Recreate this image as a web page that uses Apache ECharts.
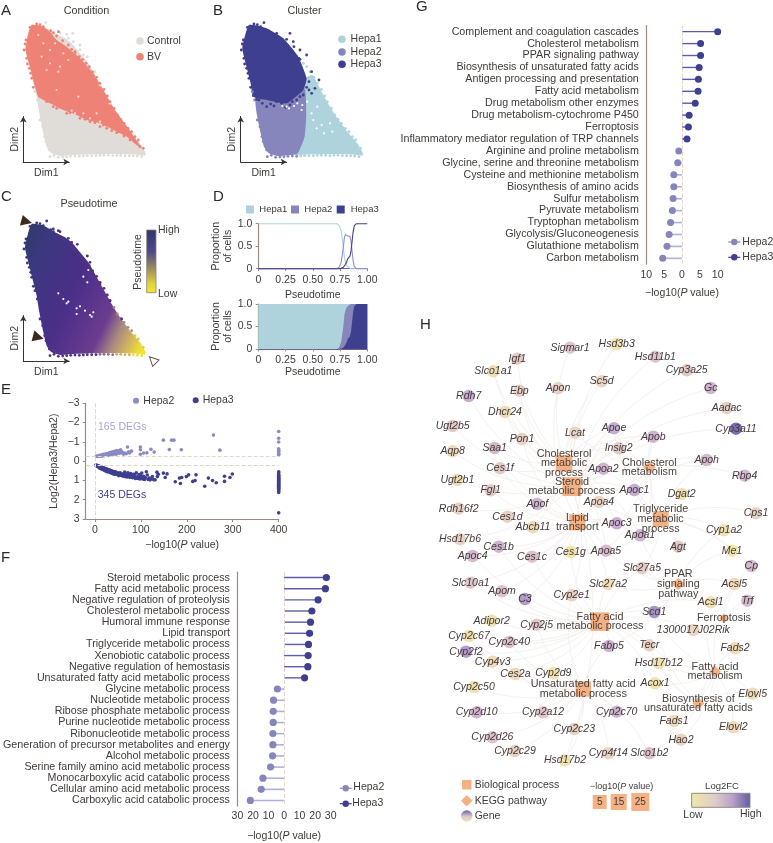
<!DOCTYPE html>
<html><head><meta charset="utf-8">
<style>html,body{margin:0;padding:0;background:#fff}#c{width:773px;height:843px}</style>
<script src="https://cdn.jsdelivr.net/npm/echarts@6/dist/echarts.min.js"></script>
</head><body><div id="c"></div>
<script>
const FONT='"Liberation Sans",Arial,sans-serif';
const TXT='#3f3a38', AX='#9a8a80';
const C1='#aed3dc',C2='#8686bd',C3='#3f3f8f',GREY='#e0dcd8',RED='#ef8276';

// Panels A-C: embedding outlines (Dim1, Dim2 in picture units)
const cloudOutline=[[95,75],[125,78],[140,85],[165,100],[195,115],[215,130],[240,160],[265,190],[285,225],[310,270],[335,315],[360,355],[390,395],[420,430],[437,460],[435,467],[400,463],[340,462],[280,463],[220,465],[180,468],[155,460],[140,440],[130,400],[118,340],[110,290],[100,250],[85,190],[75,145],[85,100]];
const bvOutline=[[95,75],[125,78],[150,95],[170,120],[200,140],[240,175],[280,220],[310,270],[345,330],[385,385],[425,445],[410,435],[380,410],[340,390],[300,370],[260,360],[230,345],[190,330],[150,310],[115,290],[105,260],[90,200],[77,150],[85,100]];
const hepa3Outline=[[95,75],[125,78],[148,85],[198,115],[243,170],[268,235],[258,270],[208,310],[148,300],[108,290],[100,250],[85,190],[75,145],[85,100]];
const hepa2Outline=[[115,292],[170,298],[215,305],[262,265],[267,340],[262,410],[240,462],[220,465],[180,468],[155,460],[140,440],[130,400],[118,340]];
const hepa1Outline=[[255,240],[285,225],[310,270],[335,315],[360,355],[390,395],[420,430],[437,460],[435,467],[400,463],[340,462],[280,463],[235,465],[250,400],[250,300]];
const upperEdge=[[78,120],[72,150],[80,175],[88,205],[95,235],[100,262],[90,82],[110,72],[130,80],[152,92],[170,108],[188,122],[205,135],[225,155],[248,178],[268,200],[290,232],[312,268],[330,305],[352,345],[372,370],[395,395],[415,420],[430,445],[120,74],[160,98],[215,148],[238,170],[258,190],[278,216],[300,250],[322,288],[342,325],[362,358],[384,385],[405,410],[75,132],[82,192],[92,220]];
const lowerEdge=[[150,470],[175,472],[200,470],[225,468],[250,468],[275,467],[300,466],[325,466],[350,466],[375,467],[400,467],[425,470],[125,345],[112,300],[128,380],[138,425],[148,450],[105,275],[120,360],[134,410],[162,466],[188,471],[212,469],[238,469],[262,467],[288,467],[312,466],[338,467],[362,466],[388,467],[412,468]];
const controlDots=[[137,68],[200,103],[218,100],[180,98],[220,125],[240,135],[240,150],[262,170],[260,190],[285,215],[300,255],[330,310],[205,115],[250,165]];
const bvDots=[[285,240],[300,280],[320,300],[340,340],[365,370],[380,385],[395,410],[405,425],[420,440],[170,325],[200,340],[240,355],[160,320],[270,365],[300,380],[355,395],[175,95],[225,160],[262,205],[120,290],[140,305],[180,322],[210,338],[255,358],[285,368],[320,385],[350,398],[390,420],[310,375],[335,392],[372,408]];
const bvFlecks=[[140,210],[150,190],[165,130],[130,130],[175,215],[180,200],[205,180],[150,150],[300,365],[270,355],[250,340],[225,340],[215,332],[290,340],[190,160],[115,105],[125,170],[235,290],[170,270]];
const hepa3Dots=[[140,68],[178,100],[218,100],[228,125],[248,150],[268,165],[283,215],[305,240],[293,265],[283,280],[148,320],[193,310],[118,298],[108,287],[178,305],[218,315],[238,300],[258,285],[208,118],[245,175],[275,245],[160,312],[125,300],[275,270],[230,140],[135,310],[170,318],[205,322],[225,305],[248,290],[268,262]];
const hepa1Flecks=[[288,360],[313,375],[338,370],[298,385],[283,340],[253,330],[208,320],[320,400],[345,395],[300,320],[215,325],[195,318],[270,305],[240,310],[230,318],[255,315]];
const pseudoDots=[[140,66],[180,98],[232,136],[262,171],[250,193],[160,90],[205,118],[270,190],[300,255],[330,305],[365,360],[175,95],[215,130]];
const pseudoFlecks=[[200,313],[230,328],[270,348],[250,233],[265,213],[275,353],[205,308],[175,283],[240,322],[255,335],[190,300],[262,250],[230,345],[280,340]];
const pseudoMarks=[[80,68],[115,415]];
const pseudoStart=[[458,483]];

// Panel D
const ptime=[0,.25,.5,.7,.72,.74,.76,.78,.79,.8,.81,.82,.83,.84,.85,.86,.87,.88,.9,.95,1];
const dHepa1=[1,1,1,1,1,.97,.85,.5,.24,.14,.07,.05,.03,0,0,0,0,0,0,0,0];
const dHepa2=[0,0,0,0,0,.03,.14,.47,.7,.76,.78,.73,.72,.72,.62,.4,.18,.05,0,0,0];
const dHepa3=[0,0,0,0,0,0,.01,.03,.06,.1,.15,.22,.25,.28,.38,.6,.82,.95,1,1,1];

// Panel E
const eHepa2=[[3,-.26],[6,-.25],[8,-.28],[10,-.26],[12,-.27],[14,-.3],[15,-.26],[17,-.29],[18,-.32],[20,-.28],[22,-.3],[24,-.34],[25,-.3],[27,-.33],[29,-.3],[30,-.37],[32,-.35],[34,-.4],[35,-.33],[37,-.38],[38,-.42],[40,-.36],[42,-.45],[43,-.4],[45,-.52],[46,-.36],[48,-.54],[50,-.48],[52,-.41],[55,-.42],[56,-.59],[58,-.5],[62,-.36],[71,-.73],[73,-.47],[78,-.5],[80,-.53],[99,-.36],[99,-.59],[99,-.73],[106,-.42],[113,-.43],[122,-.62],[129,-.47],[149,-1.09],[162,-.6],[167,-1.09],[172,-1.09],[188,-.59],[258,-1.35],[272,-.57],
[400,-1.54],[400,-1.19],[400,-.99],[400,-.64],[400,-.56],[400,-.5],[400,-.42],[400,-.36],[400,-.32],
[11,-.3],[16,-.33],[19,-.35],[23,-.37],[26,-.38],[28,-.36],[31,-.42],[33,-.44],[36,-.46],[39,-.47],[41,-.5],[44,-.44],[47,-.47],[51,-.54],[53,-.5],[60,-.45],[65,-.42],[68,-.38],[75,-.42]];
const eHepa3=[[2,.2],[3,.24],[4,.21],[5,.27],[6,.23],[7,.29],[8,.25],[9,.31],[10,.27],[11,.33],[12,.29],[13,.35],[14,.3],[15,.37],[16,.33],[17,.39],[18,.34],[19,.41],[20,.36],[21,.43],[22,.38],[23,.45],[24,.4],[25,.47],[26,.41],[27,.49],[28,.43],[29,.5],[30,.45],[31,.53],[32,.47],[33,.55],[34,.48],[35,.57],[36,.5],[37,.59],[38,.52],[39,.6],[40,.54],[41,.62],[42,.55],[44,.65],[45,.57],[46,.67],[48,.6],[50,.7],[52,.62],[54,.72],[56,.66],[58,.75],[60,.68],[62,.78],[64,.7],[65,.56],[66,.8],[68,.72],[70,.82],[72,.6],[74,.75],[76,.84],[78,.64],[80,.78],[82,.86],[84,.68],[86,.8],[88,.9],[90,.6],[92,.82],[94,.9],[96,.7],[98,.92],[100,.85],[102,.62],[104,.92],[106,.78],[108,.95],[110,.86],[112,.55],[114,.72],[116,.95],[118,.88],[120,.97],[122,.92],[125,.8],[128,.96],[131,.97],[135,.57],[136,.8],[138,.68],[149,.62],[153,.85],[157,.66],[175,1.07],[184,.88],[186,1.16],[189,.85],[199,.8],[204,.71],[213,1.05],[218,1],[220,.71],[239,1.3],[247,.88],[256,1],[264,1.12],[282,1.05],[282,.78],[294,.85],[299,.67],
[400,.55],[400,.62],[400,.7],[400,.75],[400,.8],[400,.85],[400,.9],[400,.93],[400,.97],[400,1],[400,1.04],[400,1.08],[400,1.12],[400,1.16],[400,1.2],[400,1.25],[400,1.3],[400,1.35],[400,1.4],[400,1.45],[400,1.5],[400,1.55],[400,1.62],[400,2.68],
[10,.36],[15,.42],[19,.46],[22,.5],[25,.53],[28,.56],[31,.47],[34,.6],[37,.63],[40,.66],[43,.68],[46,.58],[49,.66],[52,.75],[55,.6],[58,.68],[61,.72],[63,.64],[67,.75],[71,.7],[75,.8],[79,.72],[83,.82],[87,.72],[91,.88],[95,.8],[99,.75]];
const eCuts=[-.28,.21];
const eTicks=[0,100,200,300,400];

// Panel F
const fTerms=['Steroid metabolic process','Fatty acid metabolic process','Negative regulation of proteolysis','Cholesterol metabolic process','Humoral immune response','Lipid transport','Triglyceride metabolic process','Xenobiotic catabolic process','Negative regulation of hemostasis','Unsaturated fatty acid metabolic process','Glycine metabolic process','Nucleotide metabolic process','Ribose phosphate metabolic process','Purine nucleotide metabolic process','Ribonucleotide metabolic process','Generation of precursor metabolites and energy','Alcohol metabolic process','Serine family amino acid metabolic process','Monocarboxylic acid catabolic process','Cellular amino acid metabolic process','Carboxylic acid catabolic process'];
const fHepa3=[27.2,26.6,21.9,17.9,17,16.4,15.7,15.5,15.3,13.2,null,null,null,null,null,null,null,null,null,null,null];
const fHepa2=[null,null,null,null,null,null,null,null,null,null,-4.3,-6.8,-7,-7,-7.2,-7.2,-7.4,-8.7,-13.6,-14.7,-21.7];

// Panel G
const gTerms=['Complement and coagulation cascades','Cholesterol metabolism','PPAR signaling pathway','Biosynthesis of unsaturated fatty acids','Antigen processing and presentation','Fatty acid metabolism','Drug metabolism other enzymes','Drug metabolism-cytochrome P450','Ferroptosis','Inflammatory mediator regulation of TRP channels','Arginine and proline metabolism','Glycine, serine and threonine metabolism','Cysteine and methionine metabolism','Biosynthesis of amino acids','Sulfur metabolism','Pyruvate metabolism','Tryptophan metabolism','Glycolysis/Gluconeogenesis','Glutathione metabolism','Carbon metabolism'];
const gHepa3=[10,5.2,5.2,4.8,4.6,4.5,3.7,2,1.8,1.4,null,null,null,null,null,null,null,null,null,null];
const gHepa2=[null,null,null,null,null,null,null,null,null,null,-.9,-1.2,-2.3,-2.3,-2.5,-2.7,-3.2,-3.6,-4.2,-5.4];

// Panel H: gene nodes [name, layout x, layout y, log2FC rank 0-1]
const genes=[['Sigmar1',450,83,.45],['Hsd3b3',590,72,.05],['Igf1',292,116,.4],['Slco1a1',220,154,.15],['Hsd11b1',706,110,.45],['Cyp3a25',800,151,.42],['Sc5d',545,184,.3],['Apon',414,205,.33],['Gc',872,204,.6],['Ebp',298,212,.35],['Rdh7',146,228,.65],['Dhcr24',255,276,.2],['Aadac',920,264,.35],['Ugt2b5',98,318,.42],['Lcat',465,338,.3],['Apoe',582,325,.65],['Cyp3a11',948,326,1],['Apob',700,350,.6],['Pon1',306,357,.33],['Saa1',224,384,.55],['Insig2',596,385,.4],['Aqp8',98,394,.2],['Apoh',860,420,.55],['Ces1f',240,445,.38],['Apoa2',550,446,.6],['Rbp4',974,467,.55],['Ugt2b1',112,480,.15],['Apoc1',643,510,.65],['Dgat2',785,522,.12],['Fgl1',212,511,.42],['Apof',352,552,.6],['Apoa4',537,546,.3],['Rdh16f2',116,566,.35],['Ces1d',262,590,.35],['Cps1',1008,580,.35],['Abcb11',339,622,.2],['Apoc3',590,610,.65],['Cyp1a2',912,631,.1],['Apoa1',660,646,.6],['Hsd17b6',120,658,.33],['Ces1b',236,680,.6],['Me1',936,692,.03],['Ces1g',452,696,.05],['Apoa5',558,692,.55],['Agt',774,680,.42],['Apoc4',158,708,.55],['Ces1c',336,710,.5],['Cp',994,738,.55],['Slc27a5',666,744,.4],['Acsl5',943,792,.2],['Slc27a2',564,792,.15],['Slc10a1',152,788,.45],['Apom',246,814,.5],['C3',315,837,.75],['Acsl1',872,847,.12],['Trf',982,842,.55],['Cyp2e1',455,826,.35],['Scd1',703,876,.8],['Adipor2',215,902,.1],['Cyp2j5',350,914,.42],['1300017J02Rik',820,930,.3],['Cyp2c67',147,948,.08],['Cyp2c40',268,966,.5],['Fabp5',567,978,.62],['Tecr',688,976,.33],['Fads2',945,985,.2],['Cyp2f2',138,995,.75],['Cyp4v3',218,1025,.2],['Hsd17b12',716,1029,.1],['Ces2a',286,1062,.2],['Cyp2d9',400,1060,.05],['Acox1',705,1090,.08],['Elovl5',998,1121,.2],['Cyp2c50',162,1101,.1],['Cyp2d10',170,1177,.6],['Cyp2a12',369,1177,.45],['Cyp2c70',590,1175,.6],['Fads1',762,1203,.2],['Elovl2',940,1222,.2],['Cyp2c23',463,1227,.33],['Hao2',783,1259,.3],['Cyp2d26',217,1252,.5],['Cyp2c29',285,1293,.35],['Cyp4f14',565,1300,.3],['Slco1b2',688,1300,.5],['Hsd17b2',435,1321,.08]];
// term nodes [id, label, kind, x, y, -log10P, label x, label y]
const terms=[['t1','Cholesterol\nmetabolic\nprocess','p',432,430,17.9,434,430],['t2','Steroid\nmetabolic process','p',456,500,27.2,465,500],['t3','Lipid\ntransport','p',472,607,16.4,476,608],['t4','Triglyceride\nmetabolic\nprocess','p',722,597,15.7,727,587],['t5','Cholesterol\nmetabolism','k',688,442,5.2,688,442],['t6','PPAR\nsignaling\npathway','k',775,792,5.2,778,787],['t7','Ferroptosis','k',912,895,1.8,914,889],['t8','Fatty acid\nmetabolic process','p',540,905,26.6,548,905],['t9','Unsaturated fatty acid\nmetabolic process','p',490,1107,13.2,497,1105],['t10','Fatty acid\nmetabolism','k',885,1055,4.5,887,1053],['t11','Biosynthesis of\nunsaturated fatty acids','k',835,1150,4.8,843,1144]];
const t1Genes=['Sigmar1','Igf1','Ebp','Dhcr24','Sc5d','Lcat','Apoe','Apob','Pon1','Saa1','Insig2','Apoa2','Apoc1','Apoa4','Apof','Apoc3','Apoa1','Apoa5','Ces1f','Abcb11','Slco1a1'];
const t2Genes=['Hsd3b3','Hsd11b1','Cyp3a25','Rdh7','Ugt2b5','Ugt2b1','Rdh16f2','Hsd17b6','Hsd17b2','Ebp','Sc5d','Dhcr24','Lcat','Apoe','Apob','Apoa2','Apoc1','Apoa4','Slco1a1','Cyp2e1','Aqp8','Cyp3a11','Rbp4','Gc','Aadac','Insig2'];
const t3Genes=['Apon','Pon1','Saa1','Ces1f','Fgl1','Ces1d','Ces1b','Ces1c','Ces1g','Apoc4','Apom','Slc10a1','Abcb11','Apof','Apoa1','Apoe','Apoc3','Apoa5','Slc27a2','Apoa4','Apoh','C3'];
const t4Genes=['Dgat2','Apoc1','Apoa4','Apoc3','Apoa1','Apoa5','Apob','Agt','Apoh','Cps1','Cyp1a2','Apoe','Slc27a5','Me1','Cp'];
const t5Genes=['Apoe','Apob','Apoa2','Apoc1','Apoa4','Apoc3','Apoa1','Apoa5','Lcat','Insig2','Apoh'];
const t6Genes=['Slc27a5','Slc27a2','Acsl5','Acsl1','Scd1','Apoa1','Me1','Apoa5','Cyp1a2','Fabp5'];
const t7Genes=['Acsl5','Acsl1','Trf','Cp','1300017J02Rik'];
const t8Genes=['Cyp2e1','Scd1','Adipor2','Cyp2j5','1300017J02Rik','Cyp2c67','Cyp2c40','Fabp5','Tecr','Cyp2f2','Cyp4v3','Hsd17b12','Ces1g','Slc27a2','Slc27a5','Slc10a1','Apom','Ces1c','Acsl1','Acox1','Cyp2d9','Ces2a','Ces1b','Apoc4'];
const t9Genes=['Cyp2e1','Cyp2j5','Cyp2c40','Cyp2d9','Ces2a','Cyp4v3','Cyp2c50','Cyp2d10','Cyp2a12','Cyp2c70','Cyp2c23','Cyp2d26','Cyp2c29','Cyp4f14','Hsd17b2','Slco1b2','Fabp5','Cyp2c67','Cyp2f2'];
const t10Genes=['Acsl1','Acsl5','Scd1','Acox1','Hsd17b12','Fads2','Fads1','Elovl5','Elovl2','Hao2','Tecr'];
const t11Genes=['Scd1','Fads1','Fads2','Elovl5','Elovl2','Hsd17b12','Acox1','Tecr','Slco1b2'];
const termGenes={t1:t1Genes,t2:t2Genes,t3:t3Genes,t4:t4Genes,t5:t5Genes,t6:t6Genes,t7:t7Genes,t8:t8Genes,t9:t9Genes,t10:t10Genes,t11:t11Genes};
const sizeSamples=[['5',599.7,14],['15',618.7,16],['25',640.3,18]];

// ---------- helpers
const gr=[];
function T(text,x,y,o={}){gr.push({type:'text',x,y,rotation:o.rot||0,silent:true,z:50,style:{text,fill:o.color||TXT,font:`${o.italic?'italic ':''}${o.size||10.5}px ${FONT}`,textAlign:o.align||'left',textVerticalAlign:'middle',rich:o.rich,lineHeight:o.lh}});}
function dot(x,y,r,fill){gr.push({type:'circle',shape:{cx:x,cy:y,r},style:{fill},silent:true,z:40});}
function box(x,y,w,h,fill,stroke){gr.push({type:'rect',shape:{x,y,width:w,height:h},style:{fill,stroke:stroke||null,lineWidth:stroke?1:0},silent:true,z:40});}
function seg(x1,y1,x2,y2,c){gr.push({type:'line',shape:{x1,y1,x2,y2},style:{stroke:c,lineWidth:1.2},silent:true,z:39});}
const grids=[],xs=[],ys=[],series=[];
function addGrid(g,x,y){grids.push(g);x.gridIndex=grids.length-1;y.gridIndex=grids.length-1;xs.push(x);ys.push(y);return grids.length-1;}
const hidden=(max,inv)=>({type:'value',show:false,min:0,max,inverse:!!inv,splitLine:{show:false}});
function poly(i,pts,fill){series.push({type:'custom',xAxisIndex:i,yAxisIndex:i,silent:true,clip:false,data:pts,encode:{x:0,y:1},
 renderItem:(p,api)=>p.dataIndex===0?{type:'polygon',shape:{points:pts.map(q=>api.coord(q)),smooth:.15},style:{fill}}:null});}
function dots(i,pts,color,size){series.push({type:'scatter',xAxisIndex:i,yAxisIndex:i,silent:true,data:pts,symbolSize:size||2.8,itemStyle:{color,opacity:1}});}
function arrows(left,top){addGrid({left,top,width:46,height:45.5},
 {type:'value',min:0,max:1,name:'Dim1',nameLocation:'middle',nameGap:6,nameTextStyle:{color:TXT,fontSize:10.5,fontFamily:FONT},axisLabel:{show:false},axisTick:{show:false},splitLine:{show:false},axisLine:{show:true,onZero:false,symbol:['none','arrow'],symbolSize:[5,6],lineStyle:{color:'#333',width:1}}},
 {type:'value',min:0,max:1,name:'Dim2',nameLocation:'middle',nameGap:3,nameTextStyle:{color:TXT,fontSize:10.5,fontFamily:FONT},axisLabel:{show:false},axisTick:{show:false},splitLine:{show:false},axisLine:{show:true,onZero:false,symbol:['none','arrow'],symbolSize:[5,6],lineStyle:{color:'#333',width:1}}});}
const cloudGrid=(left,top)=>addGrid({left,top,width:150,height:166.67},hidden(450),hidden(500,true));
const gridSide=(c)=>({lineStyle:{color:c||AX,width:1.2}});
const lab=()=>({color:TXT,fontSize:10.5,fontFamily:FONT});

// ---------- A
let a=cloudGrid(0,0); poly(a,cloudOutline,GREY); dots(a,controlDots,GREY); dots(a,lowerEdge,GREY); poly(a,bvOutline,RED); dots(a,upperEdge,RED); dots(a,bvDots,RED); dots(a,bvFlecks,'#f4d8d0',2.2); arrows(23.3,116.5);
// ---------- B
let b=cloudGrid(217.3,0); poly(b,hepa1Outline,C1); poly(b,hepa2Outline,C2); poly(b,hepa3Outline,C3);
dots(b,upperEdge.filter(p=>p[0]<250),C3); dots(b,upperEdge.filter(p=>p[0]>=250),C1); dots(b,lowerEdge.filter(p=>p[0]<240),C2); dots(b,lowerEdge.filter(p=>p[0]>=240),C1); dots(b,hepa3Dots,C3); dots(b,hepa1Flecks,'#ffffff',2.2); arrows(240.7,116.5);
// ---------- C
let c=cloudGrid(0,199);
const pseudoFill=new echarts.graphic.LinearGradient(0,0,1.23,.55,[{offset:0,color:'#2f3a66'},{offset:.15,color:'#3a387f'},{offset:.45,color:'#4b2f88'},{offset:.7,color:'#6b3c90'},{offset:.8,color:'#a98a80'},{offset:.9,color:'#d9bd58'},{offset:.97,color:'#f3e52c'},{offset:1,color:'#f3e52c'}]);
poly(c,cloudOutline,pseudoFill);
dots(c,upperEdge.filter(p=>p[0]<170),'#37397a');dots(c,upperEdge.filter(p=>p[0]>=170&&p[0]<340),'#52318a');dots(c,upperEdge.filter(p=>p[0]>=340&&p[0]<400),'#a98a80');dots(c,upperEdge.filter(p=>p[0]>=400),'#e0c650');
dots(c,lowerEdge.filter(p=>p[0]<290),'#4b2f88');dots(c,lowerEdge.filter(p=>p[0]>=290&&p[0]<350),'#8a6a88');dots(c,lowerEdge.filter(p=>p[0]>=350&&p[0]<400),'#c9ad68');dots(c,lowerEdge.filter(p=>p[0]>=400),'#eedc3c');
dots(c,pseudoDots,'#4b2f88',2.8); dots(c,pseudoFlecks,'#ffffff',2.2);
series.push({type:'scatter',xAxisIndex:c,yAxisIndex:c,silent:true,clip:false,data:pseudoMarks,symbol:'triangle',symbolSize:[11,11],symbolRotate:-105,itemStyle:{color:'#3a2a22',opacity:1},z:10});
series.push({type:'scatter',xAxisIndex:c,yAxisIndex:c,silent:true,clip:false,data:pseudoStart,symbol:'triangle',symbolSize:[9,9],symbolRotate:45,itemStyle:{color:'#fff',borderColor:'#6b5545',borderWidth:1,opacity:1},z:10});
arrows(23.3,315.5);

// ---------- D
function dAxes(top,nameGapX){return addGrid({left:258.3,top,width:109,height:45},
 {type:'value',min:0,max:1,interval:.25,name:'Pseudotime',nameLocation:'middle',nameGap:nameGapX,nameTextStyle:lab(),axisLabel:{...lab(),margin:6,hideOverlap:false,formatter:v=>v===0?'0':v.toFixed(2)},axisTick:{length:2.5,lineStyle:{color:AX}},axisLine:{onZero:false,...gridSide('#6a6496')},splitLine:{show:false}},
 {type:'value',min:0,max:1,interval:.5,name:'Proportion\nof cells',nameLocation:'middle',nameGap:22,nameTextStyle:{...lab(),lineHeight:12},axisLabel:{...lab(),margin:6,formatter:v=>v===0?'0':v.toFixed(1)},axisTick:{length:2.5,lineStyle:{color:AX}},axisLine:{show:true,onZero:false,...gridSide()},splitLine:{show:false}});}
const dTop=dAxes(223.7,21), dBot=dAxes(304,17);
[[dHepa1,C1,'Hepa1'],[dHepa2,'#8f8fc8','Hepa2'],[dHepa3,C3,'Hepa3']].forEach(([v,col,n])=>series.push({type:'line',name:n,xAxisIndex:dTop,yAxisIndex:dTop,silent:true,symbol:'none',data:ptime.map((x,i)=>[x,v[i]]),lineStyle:{color:col,width:1.1},clip:false}));
// stacked layers, painted from the full height down to the lowest group
const upTo2=dHepa3.map((v,i)=>v+dHepa2[i]);
const upTo1=upTo2.map((v,i)=>v+dHepa1[i]);
[[upTo1,C1,'Hepa1'],[upTo2,C2,'Hepa2'],[dHepa3,C3,'Hepa3']].forEach(([v,col,n])=>series.push({type:'line',name:n,xAxisIndex:dBot,yAxisIndex:dBot,silent:true,symbol:'none',data:ptime.map((x,i)=>[x,v[i]]),lineStyle:{width:0},areaStyle:{color:col,opacity:1}}));

// ---------- E
const e=addGrid({left:85.7,top:403.3,width:193,height:115.7},
 {type:'value',min:-20,max:400,name:'\u2212log10({i|P} value)',nameLocation:'middle',nameGap:21,nameTextStyle:{...lab(),rich:{i:{fontStyle:'italic',fontSize:10.5,fontFamily:FONT,color:TXT}}},axisLabel:{...lab(),margin:6,customValues:eTicks},axisTick:{length:3,lineStyle:{color:AX},customValues:eTicks},axisLine:{onZero:false,...gridSide()},splitLine:{show:false}},
 {type:'value',min:-3,max:3,interval:1,inverse:true,name:'Log2(Hepa3/Hepa2)',nameLocation:'middle',nameGap:26,nameTextStyle:lab(),axisLabel:{...lab(),margin:6,formatter:v=>v<0?'\u2212'+(-v):''+v},axisTick:{length:3,lineStyle:{color:AX}},axisLine:{show:true,onZero:false,...gridSide()},splitLine:{show:false}});
const dashLine=(data)=>({silent:true,symbol:'none',animation:false,label:{show:false},lineStyle:{type:'dashed',color:'#e6d6ca',width:1},data});
series.push({type:'scatter',xAxisIndex:e,yAxisIndex:e,silent:true,clip:false,data:eHepa2,symbolSize:3.6,itemStyle:{color:'#8a8ac4',opacity:1},markLine:dashLine([{xAxis:0},...eCuts.map(v=>({yAxis:v}))])});
series.push({type:'scatter',xAxisIndex:e,yAxisIndex:e,silent:true,clip:false,data:eHepa3,symbolSize:3.6,itemStyle:{color:C3,opacity:1}});

// ---------- F, G lollipops
function lollipop(box,terms,v2,v3,lim,step,nameGap,dot,fs){
 const i=addGrid(box,
 {type:'value',min:-lim,max:lim,interval:step,name:'\u2212log10({i|P} value)',nameLocation:'middle',nameGap,nameTextStyle:{...lab(),rich:{i:{fontStyle:'italic',fontSize:10.5,fontFamily:FONT,color:TXT}}},axisLabel:{...lab(),margin:5,formatter:v=>''+Math.abs(v)},axisTick:{show:false},axisLine:{onZero:false,...gridSide()},splitLine:{show:false}},
 {type:'category',inverse:true,data:terms,axisLabel:{color:TXT,fontSize:fs,fontFamily:FONT,margin:7.5,interval:0},axisTick:{length:3,alignWithLabel:true,lineStyle:{color:AX}},axisLine:{show:true,onZero:false,...gridSide()}});
 series.push({type:'bar',xAxisIndex:i,yAxisIndex:i,silent:true,data:v2,barWidth:1.6,barGap:'-100%',itemStyle:{color:'#b0b0d8'},markLine:dashLine([{xAxis:0}])});
 series.push({type:'bar',xAxisIndex:i,yAxisIndex:i,silent:true,data:v3,barWidth:1.4,barGap:'-100%',itemStyle:{color:'#5c5ca8'}});
 const pts=v=>v.map((x,k)=>x==null?null:[x,k]).filter(Boolean);
 series.push({type:'scatter',xAxisIndex:i,yAxisIndex:i,silent:true,clip:false,data:pts(v2),symbolSize:dot,itemStyle:{color:C2,opacity:1}});
 series.push({type:'scatter',xAxisIndex:i,yAxisIndex:i,silent:true,clip:false,data:pts(v3),symbolSize:dot,itemStyle:{color:C3,opacity:1}});
}
lollipop({left:236.7,top:572,width:94,height:237},fTerms,fHepa2,fHepa3,30,10,25,7.2,10.7);
lollipop({left:646.3,top:25.7,width:71.4,height:238.5},gTerms,gHepa2,gHepa3,10,5,23,7,10.7);

// ---------- H network
const h=addGrid({left:420,top:320,width:353,height:523},hidden(1059),hidden(1569,true));
const fcStops=[[0,[241,232,168]],[.3,[233,214,194]],[.5,[218,194,204]],[.65,[198,174,210]],[1,[122,110,178]]];
function fcColor(t){for(let i=1;i<fcStops.length;i++){if(t<=fcStops[i][0]){const [a,ca]=fcStops[i-1],[b,cb]=fcStops[i],k=(t-a)/(b-a);return `rgb(${ca.map((u,j)=>Math.round(u+(cb[j]-u)*k)).join(',')})`;}}return 'rgb(122,110,178)';}
const sizeOf=(v,kind)=>kind==='p'?12+v*.25:8+v*.9;
const nodes=genes.map(([name,x,y,fc])=>({name,value:[x,y],symbol:'circle',symbolSize:12.5,itemStyle:{color:fcColor(fc)},label:{show:true,position:'inside',formatter:name,fontStyle:'italic',fontSize:10.5,fontFamily:FONT,color:'#45383a'}}))
 .concat(terms.map(([id,label,kind,x,y,p,lx,ly])=>({name:id,value:[x,y],symbol:kind==='p'?'rect':'diamond',symbolSize:sizeOf(p,kind),itemStyle:{color:'#f5b183'},label:{show:true,position:'inside',formatter:label,offset:[(lx-x)/3,(ly-y)/3],fontSize:10.8,lineHeight:9.6,fontFamily:FONT,color:'#4a423f'},z:3})));
const links=[];Object.keys(termGenes).forEach(t=>termGenes[t].forEach(g=>links.push({source:t,target:g})));
series.push({type:'graph',coordinateSystem:'cartesian2d',xAxisIndex:h,yAxisIndex:h,silent:true,layout:'none',data:nodes,links,edgeSymbol:['none','none'],lineStyle:{color:'#f3eeea',width:.8,curveness:.18,opacity:1},labelLayout:{hideOverlap:false},z:2});

// ---------- text, legends
[['A',1,11],['B',213,11],['C',1,197],['D',213,197],['E',1,390],['F',1,558],['G',416,7],['H',420,325]].forEach(([s,x,y])=>T(s,x,y,{size:15,color:'#2a2a2a'}));
T('Condition',86.5,11,{size:10.8,align:'center'});T('Cluster',304.5,11,{size:10.8,align:'center'});T('Pseudotime',89,204,{size:10.8,align:'center'});
dot(140,41,3.8,GREY);T('Control',147,41);dot(140,56.7,3.8,RED);T('BV',147,56.7);
[['Hepa1',C1,39.3],['Hepa2',C2,52],['Hepa3',C3,64.3]].forEach(([s,col,y])=>{dot(342,y,3.8,col);T(s,350.6,y);});
gr.push({type:'rect',shape:{x:146.7,y:230,width:9.3,height:62.7},silent:true,z:40,style:{stroke:'#8a8078',lineWidth:.8,fill:new echarts.graphic.LinearGradient(0,0,0,1,[{offset:0,color:'#33336b'},{offset:.35,color:'#4f4a88'},{offset:.6,color:'#96895f'},{offset:.85,color:'#e2d23a'},{offset:1,color:'#f3e82c'}])}});
T('High',158,230);T('Low',158,294);T('Pseudotime',138,262,{align:'center',rot:Math.PI/2});
[['Hepa1',C1,246,259.3],['Hepa2',C2,291,304.3],['Hepa3',C3,336.7,350.7]].forEach(([s,col,x,tx])=>{box(x,205.5,8,8,col);T(s,tx,209.3,{size:9.5});});
dot(136,400.7,3,'#8a8ac4');T('Hepa2',143.3,400.7);dot(195.7,400.3,3,C3);T('Hepa3',202.7,400.3);
T('165 DEGs',98,427.3,{color:'#a6a6d8'});T('345 DEGs',97.7,495,{color:C3});
[[345.7,788.3,353.3,'Hepa2',C2],[345.7,803.7,352.3,'Hepa3',C3]].forEach(([x,y,tx,s,col])=>{seg(x-6,y,x+6,y,col);dot(x,y,3.2,col);T(s,tx,y-.7);});
[[734.3,242,742.3,'Hepa2',C2],[734.3,257.3,742.3,'Hepa3',C3]].forEach(([x,y,tx,s,col])=>{seg(x-6,y,x+6,y,col);dot(x,y,3.2,col);T(s,tx,y);});
// H legends
box(462,780,9.5,9.5,'#f5b183');T('Biological process',474.7,785);
gr.push({type:'polygon',shape:{points:[[466.7,795],[472.5,800.7],[466.7,806.5],[461,800.7]]},style:{fill:'#f5b183'},silent:true,z:40});T('KEGG pathway',474.7,801);
gr.push({type:'circle',shape:{cx:466.7,cy:816,r:5.8},silent:true,z:40,style:{fill:new echarts.graphic.LinearGradient(0,0,0,1,[{offset:0,color:'#6b5fa8'},{offset:.55,color:'#dcc8d0'},{offset:1,color:'#f1e8a8'}])}});T('Gene',474.7,816);
T('\u2212log10({i|P} value)',621.7,786.5,{size:9,align:'center',rich:{i:{fontStyle:'italic',fontSize:9,fontFamily:FONT,color:TXT}}});
sizeSamples.forEach(([s,x,w])=>{box(x-w/2,802-w/2,w,w,'#f5b183');T(s,x,802,{size:10,align:'center'});});
T('Log2FC',722,786,{size:9.5,align:'center'});
gr.push({type:'rect',shape:{x:691.7,y:793.3,width:58.3,height:14},silent:true,z:40,style:{stroke:'#8f8a85',lineWidth:1,fill:new echarts.graphic.LinearGradient(0,0,1,0,[{offset:0,color:'#f1e8a8'},{offset:.4,color:'#e0ccc8'},{offset:.7,color:'#b8a0c8'},{offset:1,color:'#5f5aa2'}])}});
T('Low',693,815,{align:'center'});T('High',750.7,814,{align:'center'});

const chart=echarts.init(document.getElementById('c'),null,{renderer:'canvas'});
chart.setOption({animation:false,backgroundColor:'#fff',textStyle:{fontFamily:FONT},grid:grids,xAxis:xs,yAxis:ys,series,graphic:{elements:gr}});
</script></body></html>
